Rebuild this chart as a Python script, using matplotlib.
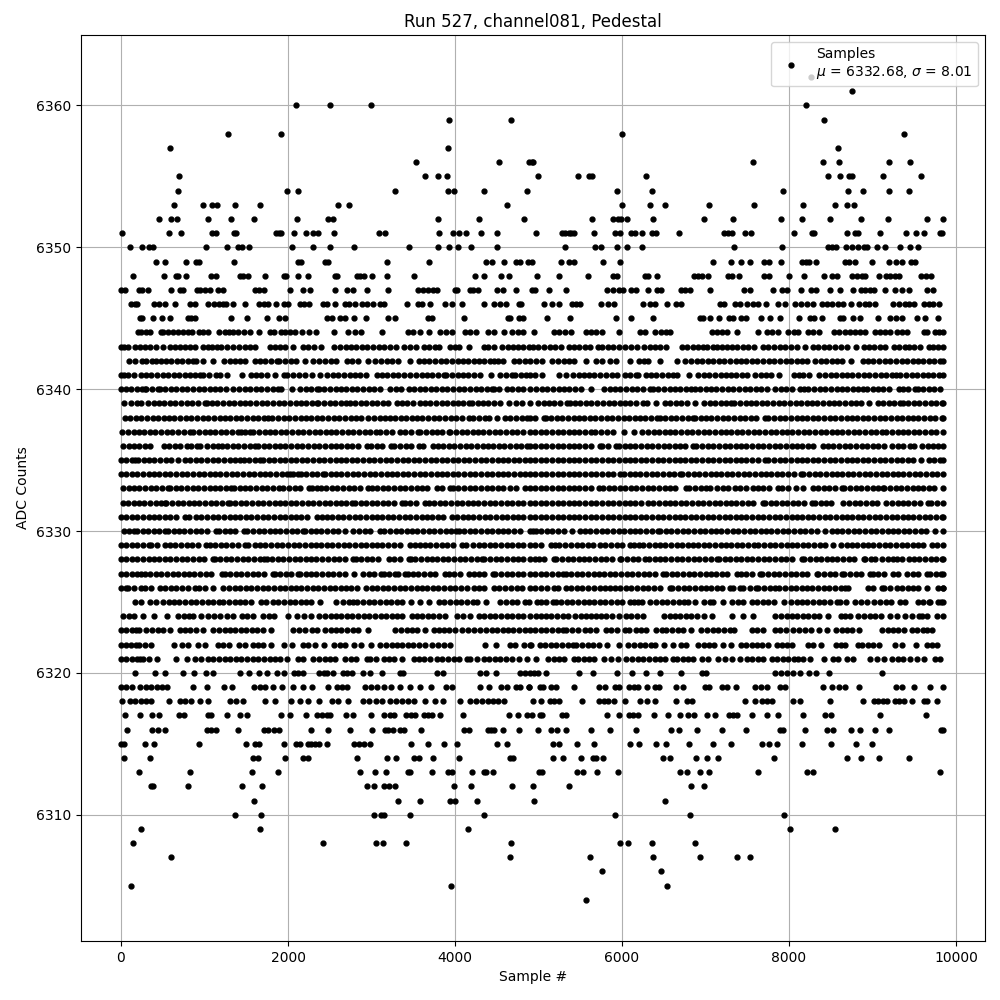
import matplotlib
matplotlib.use("Agg")
import matplotlib.pyplot as plt

TITLE = "Run 527, channel081, Pedestal"
LEGEND = "Samples\n$\\mu$ = 6332.68, $\\sigma$ = 8.01"

s6362 = [8268]
s6361 = [8760]
s6360 = [2095, 2503, 2994, 8208]
s6359 = [3928, 4670, 8424]
s6358 = [1281, 1916, 6000, 9372]
s6357 = [587, 3916, 8592]
s6356 = [3532, 4527, 4885, 4920, 4935, 7572, 8404, 8604, 9192, 9444]
s6355 = [694, 3640, 3796, 3904, 4992, 5472, 5604, 5640, 6288, 8472, 8616, 8724, 8752, 9120, 9576]
s6354 = [682, 1988, 2120, 3281, 3916, 3988, 4348, 4864, 5940, 6360, 7932, 8712, 8880, 9192, 9432]
s6353 = [635, 983, 1090, 1150, 1366, 1665, 2600, 2732, 4620, 6000, 6336, 6516, 7044, 7584, 8172, 8556, 8700, 8784]
s6352 = [456, 600, 672, 1044, 1320, 1596, 2112, 2484, 2544, 3796, 4288, 4826, 5640, 5892, 5952, 5992, 6060, 6372, 6984, 7332, 7908, 8160, 8496, 8868, 9180, 9648, 9845]
s6351 = [12, 576, 720, 1090, 1137, 1350, 1380, 1860, 1892, 1920, 2072, 2216, 2300, 2360, 2552, 3090, 3162, 3808, 3976, 4048, 4132, 4312, 4504, 4968, 5280, 5312, 5364, 5392, 5420, 5664, 5916, 5980, 6112, 6152, 6240, 6360, 6412, 6684, 7224, 7264, 7312, 7476, 7544, 8064, 8272, 8304, 8700, 8792, 8832, 9084, 9396, 9516, 9612, 9804, 9832]
s6350 = [108, 252, 336, 384, 1020, 1272, 1404, 1452, 1536, 2052, 2304, 2508, 2796, 3444, 3792, 3924, 4032, 4188, 4500, 5316, 5676, 5744, 5940, 6060, 6240, 7344, 7920, 8472, 8520, 8560, 8680, 8752, 8832, 8892, 8932, 9048, 9144, 9324, 9444, 9540]
s6349 = [420, 528, 780, 900, 930, 1356, 2124, 2150, 2444, 2480, 3180, 3692, 4376, 4448, 4590, 4736, 4780, 4880, 4920, 5268, 5364, 5424, 5768, 5976, 7092, 7308, 7428, 7536, 7704, 7760, 7908, 8160, 8204, 8236, 8328, 8676, 8724, 8792, 8988, 9192, 9276, 9348, 9456, 9512]
s6348 = [144, 516, 660, 684, 780, 1076, 1140, 1425, 1464, 1520, 1724, 1952, 1972, 2120, 2240, 2564, 2590, 2828, 2868, 2912, 3008, 3184, 3508, 4240, 4348, 4552, 4648, 4980, 5244, 5592, 5892, 5940, 6272, 6312, 6420, 6864, 6912, 6960, 7032, 7272, 7320, 7404, 7704, 7760, 8004, 8184, 8424, 8512, 8572, 8760, 8812, 8872, 8912, 9072, 9156, 9212, 9272, 9312, 9584, 9640, 9700]
s6347 = [0, 48, 216, 252, 324, 604, 708, 748, 912, 952, 1008, 1068, 1164, 1224, 1604, 1652, 1712, 2024, 2184, 2264, 2564, 2708, 2780, 2948, 3200, 3560, 3620, 3680, 3740, 3780, 4000, 4024, 4184, 4216, 4276, 4504, 4576, 4732, 4920, 4956, 5124, 5328, 5820, 5892, 5964, 6012, 6112, 6164, 6312, 6420, 6464, 6708, 6752, 6812, 7056, 7464, 7536, 7812, 7920, 7980, 8148, 8260, 8324, 8496, 8616, 8772, 8868, 8912, 8964, 9012, 9144, 9264, 9348, 9432, 9648, 9724]
s6346 = [120, 164, 192, 396, 456, 528, 652, 832, 884, 1044, 1116, 1176, 1224, 1256, 1344, 1488, 1656, 1712, 1764, 1860, 1956, 2000, 2148, 2192, 2256, 2416, 2472, 2564, 2688, 2736, 2808, 2884, 2948, 3012, 3096, 3152, 3420, 3552, 3604, 3696, 3876, 3960, 4080, 4344, 4464, 4536, 4608, 4764, 4796, 5064, 5156, 5244, 5396, 5452, 5500, 5748, 5832, 5904, 6252, 6332, 6392, 6536, 6644, 6704, 7176, 7224, 7352, 7412, 7492, 7572, 7632, 7728, 7872, 7956, 8076, 8140, 8212, 8292, 8400, 8452, 8520, 8592, 8652, 8748, 8844, 8912, 8952, 9024, 9240, 9312, 9384, 9432, 9492, 9612, 9672, 9720, 9792]
s6345 = [224, 256, 384, 492, 588, 804, 844, 884, 1320, 1512, 1752, 1896, 1968, 2472, 2532, 2628, 2684, 2796, 2940, 3192, 3276, 3672, 3720, 4104, 4632, 4664, 4772, 4816, 5100, 5376, 5928, 6108, 6372, 6932, 6972, 7056, 7164, 7284, 7332, 7428, 7484, 7668, 7776, 7896, 8124, 8256, 8304, 8400, 8616, 8652, 8772, 8852, 9060, 9212, 9276, 9348, 9528, 9624, 9780]
s6344 = [204, 244, 304, 344, 476, 504, 564, 624, 684, 744, 804, 856, 936, 984, 1040, 1176, 1244, 1296, 1344, 1404, 1472, 1544, 1656, 1784, 1832, 1916, 1964, 2024, 2084, 2172, 2256, 2340, 2552, 2724, 2808, 2872, 3120, 3436, 3496, 3576, 3684, 3816, 3888, 3964, 4124, 4176, 4248, 4392, 4464, 4584, 4684, 4752, 4816, 4940, 5180, 5244, 5312, 5392, 5572, 5632, 5692, 5764, 5964, 6212, 6272, 6392, 6472, 6524, 6580, 7072, 7132, 7192, 7260, 7380, 7632, 7740, 7792, 7872, 7992, 8060, 8112, 8232, 8284, 8364, 8540, 8604, 8672, 8732, 8792, 8852, 8912, 9032, 9092, 9152, 9212, 9292, 9352, 9412, 9612, 9652, 9752, 9792, 9845]
s6343 = [0, 40, 84, 164, 224, 284, 344, 416, 504, 584, 644, 704, 764, 824, 884, 984, 1040, 1084, 1144, 1200, 1270, 1336, 1416, 1480, 1540, 1604, 1784, 1844, 1904, 1964, 2064, 2176, 2240, 2310, 2396, 2552, 2620, 2690, 2750, 2820, 2890, 2950, 3020, 3090, 3150, 3220, 3290, 3384, 3464, 3530, 3624, 3684, 3764, 3804, 3944, 4000, 4044, 4164, 4344, 4400, 4464, 4564, 4630, 4700, 4760, 4820, 4884, 4932, 4992, 5060, 5140, 5200, 5272, 5364, 5430, 5490, 5552, 5612, 5712, 5764, 5830, 5890, 5960, 6030, 6112, 6184, 6260, 6330, 6400, 6460, 6524, 6716, 6780, 6850, 6910, 6972, 7012, 7084, 7140, 7200, 7252, 7312, 7380, 7450, 7510, 7580, 7692, 7752, 7820, 7890, 7950, 8020, 8090, 8192, 8284, 8350, 8420, 8484, 8552, 8620, 8692, 8804, 8892, 8952, 9020, 9090, 9150, 9252, 9312, 9392, 9432, 9500, 9570, 9672, 9724, 9790, 9850]
s6342 = [96, 164, 256, 304, 368, 424, 476, 540, 600, 670, 730, 800, 860, 904, 984, 1096, 1232, 1300, 1360, 1430, 1490, 1604, 1664, 1730, 1800, 1864, 1892, 1960, 2030, 2090, 2204, 2304, 2370, 2440, 2510, 2576, 2704, 2770, 2840, 2956, 3044, 3110, 3180, 3250, 3316, 3456, 3564, 3630, 3690, 3760, 3830, 3890, 3960, 4030, 4090, 4160, 4232, 4284, 4350, 4416, 4464, 4520, 4576, 4704, 4770, 4840, 4904, 4972, 5036, 5164, 5230, 5300, 5360, 5424, 5564, 5692, 5760, 5852, 5924, 6100, 6204, 6260, 6312, 6460, 6660, 6752, 6832, 6900, 6960, 7024, 7092, 7160, 7220, 7290, 7360, 7420, 7490, 7560, 7620, 7690, 7760, 7820, 7890, 7960, 8020, 8090, 8150, 8212, 8312, 8380, 8440, 8510, 8580, 8640, 8740, 8884, 8950, 9010, 9080, 9150, 9210, 9280, 9350, 9410, 9480, 9540, 9610, 9680, 9740, 9810, 9845]
s6341 = [0, 40, 84, 152, 236, 300, 360, 430, 500, 560, 630, 700, 764, 824, 890, 950, 984, 1056, 1136, 1184, 1264, 1444, 1552, 1620, 1680, 1744, 1844, 1952, 1992, 2060, 2130, 2200, 2284, 2384, 2472, 2536, 2600, 2670, 2740, 2800, 2864, 2936, 3064, 3130, 3190, 3260, 3320, 3384, 3464, 3530, 3600, 3660, 3730, 3800, 3864, 3896, 3960, 4030, 4100, 4160, 4224, 4296, 4432, 4536, 4610, 4684, 4724, 4790, 4850, 4904, 4960, 5044, 5244, 5332, 5412, 5480, 5540, 5610, 5670, 5732, 5812, 5880, 5940, 6032, 6100, 6164, 6192, 6284, 6350, 6412, 6484, 6550, 6610, 6664, 6804, 6912, 6980, 7040, 7110, 7180, 7240, 7310, 7370, 7440, 7500, 7592, 7660, 7720, 7790, 7884, 8060, 8120, 8172, 8244, 8364, 8430, 8500, 8560, 8630, 8700, 8760, 8830, 8900, 8960, 9030, 9100, 9160, 9230, 9284, 9332, 9400, 9470, 9530, 9600, 9670, 9730, 9792, 9850]
s6340 = [0, 60, 120, 190, 250, 284, 304, 370, 444, 464, 530, 600, 660, 730, 790, 860, 930, 990, 1060, 1130, 1190, 1256, 1336, 1416, 1480, 1550, 1620, 1680, 1750, 1820, 1880, 1916, 2052, 2144, 2210, 2280, 2344, 2376, 2432, 2500, 2570, 2630, 2700, 2770, 2830, 2900, 2970, 3030, 3104, 3216, 3290, 3352, 3444, 3510, 3580, 3640, 3710, 3776, 3844, 3910, 3980, 4050, 4110, 4180, 4250, 4310, 4380, 4444, 4464, 4530, 4624, 4684, 4750, 4820, 4904, 4972, 5040, 5100, 5170, 5240, 5300, 5370, 5440, 5512, 5628, 5780, 5852, 5920, 5980, 6050, 6120, 6180, 6250, 6332, 6372, 6432, 6500, 6570, 6630, 6700, 6770, 6830, 6880, 6932, 7000, 7070, 7130, 7200, 7270, 7330, 7400, 7470, 7530, 7600, 7670, 7732, 7832, 7900, 7960, 8030, 8132, 8180, 8232, 8300, 8370, 8430, 8500, 8570, 8630, 8700, 8770, 8830, 8884, 8932, 9000, 9070, 9130, 9200, 9312, 9360, 9430, 9512, 9540, 9610, 9680, 9740, 9812]
s6339 = [36, 124, 190, 244, 324, 390, 450, 520, 590, 650, 720, 790, 850, 920, 1004, 1024, 1090, 1150, 1220, 1290, 1350, 1420, 1490, 1550, 1620, 1690, 1750, 1820, 1890, 1950, 2020, 2090, 2150, 2220, 2290, 2344, 2364, 2430, 2500, 2560, 2630, 2700, 2744, 2804, 2870, 2940, 3000, 3070, 3140, 3200, 3304, 3364, 3430, 3500, 3584, 3636, 3700, 3770, 3840, 3900, 3970, 4040, 4100, 4164, 4204, 4270, 4340, 4400, 4470, 4540, 4644, 4736, 4800, 4904, 4992, 5060, 5120, 5190, 5252, 5340, 5380, 5432, 5500, 5570, 5630, 5700, 5770, 5844, 5904, 5970, 6040, 6100, 6170, 6252, 6300, 6412, 6512, 6580, 6650, 6710, 6780, 6880, 6980, 7050, 7110, 7180, 7250, 7304, 7340, 7410, 7480, 7540, 7610, 7680, 7740, 7810, 7880, 7940, 8010, 8080, 8140, 8210, 8280, 8340, 8410, 8480, 8540, 8604, 8672, 8740, 8800, 8864, 8956, 9060, 9130, 9200, 9260, 9332, 9364, 9430, 9500, 9560, 9630, 9700, 9760, 9830, 9850]
s6338 = [44, 110, 180, 240, 310, 380, 440, 510, 580, 640, 710, 780, 840, 910, 980, 1040, 1110, 1180, 1240, 1310, 1380, 1440, 1510, 1580, 1640, 1710, 1764, 1812, 1880, 1950, 2010, 2080, 2150, 2210, 2280, 2350, 2410, 2480, 2550, 2610, 2680, 2750, 2810, 2880, 2964, 3024, 3100, 3164, 3216, 3280, 3350, 3410, 3480, 3550, 3610, 3680, 3750, 3810, 3880, 3950, 4010, 4080, 4164, 4216, 4290, 4364, 4404, 4504, 4596, 4660, 4730, 4800, 4860, 4904, 4960, 5060, 5084, 5150, 5220, 5280, 5350, 5420, 5480, 5550, 5620, 5680, 5750, 5820, 5880, 5950, 6020, 6080, 6150, 6220, 6280, 6350, 6420, 6452, 6520, 6590, 6650, 6720, 6790, 6852, 6872, 6940, 7010, 7070, 7140, 7210, 7270, 7340, 7410, 7470, 7540, 7610, 7712, 7752, 7820, 7890, 7950, 8020, 8090, 8150, 8220, 8290, 8350, 8420, 8490, 8550, 8620, 8690, 8750, 8820, 8890, 8950, 9020, 9090, 9150, 9220, 9290, 9350, 9420, 9490, 9550, 9620, 9690, 9750, 9832, 9850]
s6337 = [16, 80, 150, 210, 280, 350, 410, 480, 550, 610, 680, 750, 832, 864, 930, 1000, 1060, 1130, 1200, 1260, 1330, 1396, 1432, 1490, 1544, 1584, 1650, 1720, 1780, 1850, 1920, 1980, 2050, 2120, 2180, 2250, 2320, 2380, 2450, 2520, 2580, 2650, 2720, 2780, 2850, 2920, 2980, 3056, 3104, 3170, 3240, 3336, 3404, 3470, 3552, 3584, 3650, 3720, 3780, 3850, 3924, 3944, 4010, 4080, 4140, 4210, 4280, 4340, 4410, 4480, 4540, 4610, 4680, 4740, 4810, 4904, 4960, 5030, 5090, 5160, 5230, 5290, 5360, 5430, 5490, 5560, 5632, 5680, 5750, 5820, 5892, 6024, 6144, 6244, 6310, 6380, 6440, 6510, 6580, 6640, 6710, 6780, 6840, 6910, 6980, 7040, 7110, 7180, 7240, 7310, 7380, 7440, 7510, 7580, 7640, 7710, 7780, 7840, 7910, 7980, 8040, 8110, 8180, 8240, 8310, 8380, 8440, 8510, 8580, 8640, 8710, 8780, 8840, 8910, 8980, 9040, 9110, 9164, 9232, 9300, 9360, 9430, 9500, 9560, 9630, 9700, 9760, 9845]
s6336 = [24, 90, 160, 220, 290, 344, 516, 580, 650, 710, 792, 844, 910, 952, 1032, 1100, 1160, 1204, 1272, 1340, 1400, 1470, 1540, 1604, 1644, 1710, 1770, 1840, 1910, 1970, 2040, 2110, 2170, 2240, 2310, 2370, 2440, 2510, 2570, 2640, 2710, 2770, 2840, 2944, 2996, 3060, 3130, 3232, 3272, 3340, 3410, 3470, 3564, 3616, 3736, 3792, 3860, 3930, 3990, 4060, 4130, 4190, 4260, 4330, 4390, 4460, 4530, 4590, 4660, 4730, 4790, 4860, 4904, 4960, 5030, 5090, 5160, 5230, 5290, 5360, 5430, 5490, 5560, 5630, 5732, 5764, 5830, 5932, 5964, 6030, 6100, 6160, 6230, 6300, 6360, 6430, 6500, 6560, 6630, 6700, 6760, 6852, 6892, 6960, 7030, 7090, 7160, 7230, 7290, 7360, 7430, 7490, 7560, 7630, 7690, 7760, 7830, 7890, 7960, 8030, 8090, 8160, 8230, 8292, 8404, 8470, 8530, 8600, 8670, 8730, 8800, 8870, 8930, 9000, 9070, 9140, 9232, 9300, 9360, 9452, 9500, 9592, 9660, 9730, 9790, 9850]
s6335 = [0, 60, 130, 164, 204, 270, 340, 400, 470, 540, 600, 684, 764, 830, 900, 960, 1030, 1100, 1160, 1230, 1300, 1360, 1424, 1472, 1536, 1600, 1664, 1704, 1770, 1830, 1900, 1970, 2030, 2100, 2170, 2230, 2300, 2370, 2430, 2500, 2570, 2630, 2700, 2770, 2830, 2900, 2970, 3030, 3100, 3170, 3230, 3304, 3376, 3440, 3510, 3570, 3640, 3710, 3770, 3840, 3910, 3970, 4040, 4110, 4170, 4240, 4310, 4370, 4440, 4510, 4570, 4640, 4710, 4770, 4840, 4904, 4960, 5030, 5090, 5160, 5230, 5290, 5360, 5430, 5490, 5560, 5630, 5690, 5760, 5830, 5890, 5960, 6030, 6090, 6160, 6230, 6290, 6360, 6430, 6490, 6560, 6630, 6690, 6760, 6830, 6890, 6960, 7030, 7090, 7160, 7230, 7290, 7360, 7430, 7490, 7560, 7630, 7712, 7752, 7820, 7890, 7950, 8020, 8090, 8150, 8220, 8290, 8350, 8420, 8490, 8550, 8620, 8690, 8750, 8820, 8890, 8950, 9020, 9090, 9150, 9220, 9290, 9350, 9420, 9490, 9580, 9676, 9740, 9810, 9850]
s6334 = [0, 60, 130, 190, 260, 330, 390, 460, 530, 590, 660, 730, 790, 860, 930, 990, 1060, 1130, 1190, 1260, 1330, 1390, 1460, 1530, 1590, 1660, 1730, 1790, 1860, 1930, 1990, 2024, 2064, 2124, 2152, 2220, 2290, 2350, 2416, 2444, 2510, 2580, 2640, 2710, 2780, 2840, 2910, 2980, 3040, 3110, 3180, 3240, 3310, 3380, 3440, 3510, 3580, 3640, 3710, 3780, 3840, 3910, 3980, 4040, 4110, 4180, 4240, 4310, 4380, 4440, 4510, 4580, 4640, 4710, 4780, 4840, 4904, 4960, 5030, 5090, 5160, 5230, 5290, 5360, 5430, 5490, 5560, 5630, 5690, 5760, 5830, 5890, 5980, 6020, 6090, 6160, 6220, 6290, 6360, 6420, 6490, 6560, 6620, 6692, 6724, 6790, 6860, 6920, 6990, 7060, 7120, 7190, 7260, 7320, 7390, 7460, 7520, 7590, 7660, 7720, 7790, 7860, 7920, 7990, 8060, 8140, 8172, 8240, 8310, 8370, 8440, 8510, 8570, 8640, 8710, 8770, 8840, 8910, 8970, 9040, 9110, 9170, 9240, 9310, 9370, 9440, 9510, 9570, 9640, 9710, 9770, 9850]
s6333 = [24, 90, 160, 220, 290, 360, 420, 490, 564, 592, 660, 720, 790, 860, 920, 990, 1060, 1120, 1190, 1260, 1312, 1352, 1420, 1490, 1550, 1620, 1690, 1750, 1820, 1896, 1944, 2010, 2080, 2140, 2256, 2292, 2352, 2392, 2460, 2530, 2590, 2660, 2730, 2790, 2860, 2964, 3004, 3070, 3140, 3200, 3270, 3340, 3400, 3470, 3540, 3600, 3670, 3784, 3844, 3936, 3976, 4040, 4110, 4180, 4240, 4310, 4380, 4440, 4510, 4580, 4656, 4736, 4844, 4904, 4960, 5030, 5090, 5160, 5230, 5290, 5360, 5430, 5490, 5560, 5630, 5724, 5772, 5840, 5910, 5970, 6040, 6110, 6170, 6240, 6310, 6370, 6440, 6510, 6570, 6640, 6764, 6804, 6870, 6940, 7000, 7052, 7132, 7204, 7270, 7352, 7412, 7490, 7564, 7632, 7692, 7760, 7872, 7920, 7990, 8084, 8164, 8284, 8350, 8420, 8480, 8550, 8632, 8660, 8730, 8800, 8860, 8930, 9000, 9060, 9124, 9140, 9210, 9280, 9340, 9410, 9480, 9540, 9610, 9680, 9740, 9845]
s6332 = [24, 84, 150, 220, 280, 350, 420, 480, 524, 544, 610, 680, 740, 810, 880, 940, 1010, 1080, 1140, 1210, 1284, 1304, 1370, 1440, 1500, 1570, 1640, 1700, 1770, 1840, 1900, 1970, 2040, 2100, 2170, 2240, 2300, 2370, 2440, 2500, 2570, 2640, 2700, 2764, 2804, 2870, 2940, 3000, 3070, 3140, 3200, 3270, 3364, 3396, 3460, 3530, 3644, 3684, 3750, 3820, 3880, 3950, 4020, 4080, 4150, 4220, 4280, 4350, 4420, 4480, 4550, 4620, 4680, 4750, 4820, 4904, 4960, 5030, 5090, 5160, 5230, 5290, 5360, 5430, 5490, 5560, 5630, 5690, 5760, 5830, 5890, 5960, 6030, 6090, 6160, 6230, 6312, 6372, 6440, 6510, 6570, 6640, 6710, 6770, 6840, 6910, 6970, 7040, 7110, 7170, 7240, 7310, 7370, 7440, 7510, 7570, 7692, 7712, 7780, 7850, 7910, 7980, 8050, 8110, 8180, 8272, 8312, 8380, 8440, 8504, 8652, 8720, 8790, 8850, 8920, 8990, 9050, 9164, 9232, 9300, 9370, 9430, 9500, 9570, 9660, 9704, 9770, 9850]
s6331 = [0, 60, 130, 190, 260, 330, 390, 460, 530, 590, 660, 764, 816, 896, 960, 1030, 1100, 1160, 1230, 1300, 1360, 1430, 1500, 1560, 1630, 1700, 1760, 1830, 1900, 1960, 2030, 2100, 2160, 2230, 2352, 2404, 2464, 2530, 2600, 2660, 2730, 2800, 2860, 2930, 3000, 3060, 3130, 3200, 3260, 3330, 3400, 3460, 3530, 3600, 3660, 3730, 3800, 3860, 3964, 4024, 4090, 4160, 4220, 4290, 4360, 4420, 4490, 4560, 4620, 4690, 4760, 4820, 4904, 4960, 5030, 5090, 5160, 5230, 5290, 5360, 5430, 5490, 5560, 5630, 5690, 5760, 5830, 5890, 5960, 6030, 6090, 6160, 6230, 6290, 6360, 6430, 6490, 6560, 6630, 6690, 6760, 6830, 6890, 6960, 7030, 7090, 7160, 7230, 7290, 7360, 7430, 7490, 7560, 7630, 7690, 7760, 7830, 7890, 7960, 8030, 8090, 8160, 8230, 8290, 8360, 8430, 8490, 8560, 8630, 8690, 8760, 8830, 8890, 8960, 9030, 9090, 9160, 9230, 9290, 9360, 9430, 9490, 9560, 9630, 9690, 9760, 9830, 9850]
s6330 = [32, 90, 152, 192, 260, 320, 390, 460, 524, 564, 630, 700, 760, 830, 900, 960, 1030, 1136, 1172, 1240, 1310, 1370, 1476, 1512, 1580, 1650, 1710, 1780, 1850, 1910, 1980, 2050, 2110, 2176, 2204, 2270, 2340, 2400, 2470, 2540, 2600, 2684, 2784, 2850, 2920, 2980, 3104, 3152, 3220, 3290, 3350, 3420, 3490, 3550, 3620, 3690, 3750, 3820, 3890, 3950, 4016, 4044, 4110, 4180, 4240, 4310, 4380, 4440, 4510, 4580, 4640, 4710, 4780, 4904, 4932, 4964, 5030, 5100, 5160, 5230, 5300, 5404, 5492, 5560, 5620, 5690, 5760, 5820, 5890, 5960, 6020, 6090, 6160, 6220, 6290, 6360, 6432, 6460, 6530, 6590, 6660, 6730, 6790, 6860, 6930, 6990, 7060, 7130, 7190, 7260, 7330, 7390, 7460, 7530, 7590, 7660, 7730, 7790, 7860, 7930, 7990, 8060, 8130, 8190, 8260, 8330, 8432, 8512, 8580, 8640, 8710, 8780, 8840, 8910, 8980, 9040, 9110, 9180, 9240, 9310, 9380, 9440, 9510, 9580, 9640, 9752, 9844]
s6329 = [0, 60, 130, 190, 260, 330, 364, 432, 524, 590, 650, 720, 790, 850, 920, 1016, 1064, 1130, 1200, 1260, 1330, 1400, 1484, 1524, 1604, 1670, 1730, 1800, 1870, 1930, 2000, 2070, 2130, 2200, 2270, 2330, 2400, 2470, 2530, 2600, 2670, 2730, 2800, 2870, 2930, 3000, 3070, 3130, 3200, 3270, 3344, 3456, 3520, 3584, 3644, 3704, 3770, 3840, 3900, 3970, 4084, 4132, 4216, 4284, 4350, 4420, 4480, 4550, 4620, 4680, 4750, 4820, 4904, 4960, 5030, 5152, 5192, 5250, 5312, 5392, 5460, 5520, 5590, 5652, 5740, 5800, 5870, 5940, 6000, 6092, 6140, 6200, 6252, 6324, 6390, 6460, 6520, 6590, 6660, 6720, 6792, 6852, 6912, 6980, 7040, 7110, 7180, 7240, 7310, 7380, 7440, 7510, 7580, 7632, 7700, 7770, 7830, 7900, 7970, 8030, 8100, 8170, 8230, 8300, 8370, 8430, 8524, 8620, 8690, 8752, 8812, 8880, 8950, 9010, 9080, 9150, 9210, 9280, 9350, 9410, 9480, 9550, 9610, 9712, 9772, 9845]
s6328 = [0, 60, 130, 190, 260, 330, 390, 460, 530, 590, 660, 730, 790, 860, 930, 990, 1096, 1124, 1190, 1260, 1320, 1390, 1460, 1520, 1590, 1660, 1712, 1744, 1810, 1880, 1940, 2010, 2080, 2140, 2210, 2280, 2340, 2404, 2484, 2550, 2610, 2680, 2784, 2816, 2880, 2950, 3010, 3076, 3204, 3270, 3340, 3444, 3472, 3524, 3590, 3660, 3720, 3790, 3860, 3920, 3990, 4060, 4120, 4190, 4260, 4324, 4352, 4420, 4490, 4550, 4620, 4690, 4750, 4820, 4904, 4952, 5004, 5070, 5180, 5212, 5280, 5350, 5410, 5480, 5550, 5610, 5680, 5750, 5810, 5880, 5972, 5992, 6060, 6130, 6190, 6272, 6324, 6390, 6460, 6520, 6590, 6660, 6720, 6790, 6860, 6920, 6990, 7060, 7132, 7164, 7230, 7292, 7364, 7430, 7500, 7560, 7630, 7700, 7760, 7830, 7900, 7960, 8030, 8152, 8180, 8250, 8320, 8380, 8450, 8520, 8580, 8650, 8720, 8780, 8892, 8912, 8980, 9032, 9112, 9180, 9240, 9292, 9352, 9432, 9500, 9560, 9630, 9700, 9760, 9830, 9850]
s6327 = [0, 60, 130, 190, 244, 284, 350, 420, 480, 550, 620, 680, 750, 820, 880, 950, 1020, 1080, 1204, 1244, 1310, 1380, 1440, 1510, 1580, 1640, 1710, 1816, 1844, 1910, 1980, 2040, 2124, 2144, 2210, 2280, 2340, 2410, 2480, 2540, 2610, 2680, 2792, 2904, 2970, 3030, 3112, 3144, 3210, 3284, 3312, 3404, 3432, 3496, 3560, 3630, 3700, 3760, 3884, 3924, 3990, 4060, 4164, 4224, 4290, 4350, 4452, 4484, 4550, 4620, 4680, 4750, 4820, 4904, 4960, 5030, 5090, 5160, 5230, 5292, 5324, 5390, 5460, 5520, 5590, 5660, 5720, 5790, 5860, 5920, 5990, 6060, 6120, 6190, 6260, 6320, 6390, 6492, 6532, 6600, 6660, 6730, 6800, 6860, 6930, 7000, 7060, 7130, 7200, 7260, 7372, 7420, 7490, 7560, 7652, 7680, 7750, 7820, 7880, 7950, 8020, 8080, 8150, 8220, 8332, 8352, 8420, 8490, 8550, 8632, 8664, 8730, 8800, 8860, 8964, 9004, 9070, 9140, 9244, 9304, 9412, 9480, 9540, 9652, 9692, 9760, 9820, 9850]
s6326 = [4, 60, 84, 152, 236, 290, 356, 464, 532, 600, 660, 730, 800, 884, 936, 1004, 1096, 1216, 1296, 1360, 1430, 1500, 1560, 1630, 1700, 1760, 1830, 1900, 1960, 2030, 2100, 2160, 2230, 2300, 2360, 2430, 2500, 2560, 2630, 2700, 2760, 2830, 2936, 3004, 3070, 3140, 3200, 3270, 3340, 3400, 3470, 3540, 3600, 3670, 3740, 3800, 3870, 3940, 4000, 4070, 4140, 4224, 4290, 4350, 4464, 4524, 4604, 4670, 4740, 4800, 4904, 4960, 5030, 5100, 5180, 5232, 5324, 5392, 5460, 5520, 5590, 5660, 5732, 5792, 5852, 5912, 5980, 6050, 6110, 6180, 6250, 6310, 6380, 6450, 6572, 6604, 6670, 6740, 6800, 6870, 6940, 7000, 7070, 7140, 7200, 7292, 7332, 7412, 7452, 7530, 7604, 7632, 7700, 7770, 7832, 7884, 7950, 8020, 8080, 8150, 8220, 8280, 8350, 8420, 8480, 8550, 8620, 8672, 8712, 8940, 9010, 9112, 9140, 9210, 9292, 9352, 9420, 9490, 9550, 9652, 9780, 9840, 9850]
s6325 = [164, 244, 344, 416, 504, 570, 640, 700, 770, 840, 900, 970, 1036, 1096, 1176, 1224, 1290, 1360, 1420, 1490, 1560, 1672, 1736, 1816, 1880, 1950, 2020, 2080, 2150, 2220, 2280, 2384, 2576, 2664, 2736, 2784, 2832, 2900, 2970, 3030, 3100, 3170, 3230, 3304, 3364, 3476, 3584, 3684, 3804, 3872, 3940, 4010, 4070, 4140, 4216, 4264, 4376, 4544, 4610, 4680, 4740, 4844, 4892, 4980, 5032, 5084, 5172, 5204, 5270, 5340, 5400, 5470, 5540, 5600, 5670, 5740, 5800, 5870, 5940, 6000, 6092, 6140, 6192, 6244, 6332, 6412, 6480, 6540, 6610, 6680, 6740, 6792, 6880, 6980, 7052, 7092, 7204, 7312, 7392, 7452, 7552, 7620, 7690, 7750, 7820, 7944, 8024, 8090, 8160, 8220, 8290, 8360, 8420, 8490, 8572, 8612, 8680, 8792, 8860, 8930, 9012, 9092, 9160, 9220, 9332, 9388, 9540, 9610, 9672, 9692, 9780, 9820, 9850]
s6324 = [24, 90, 152, 264, 396, 552, 684, 750, 810, 864, 956, 1044, 1110, 1180, 1264, 1344, 1444, 1510, 1584, 1704, 1770, 1832, 2004, 2112, 2190, 2272, 2376, 2440, 2510, 2570, 2640, 2710, 2770, 2840, 2910, 2970, 3040, 3110, 3170, 3240, 3310, 3370, 3484, 3544, 3610, 3680, 3740, 3810, 3884, 4024, 4100, 4176, 4284, 4350, 4420, 4480, 4550, 4620, 4680, 4750, 4820, 4904, 4972, 5030, 5092, 5152, 5220, 5290, 5350, 5432, 5512, 5570, 5632, 5692, 5750, 5804, 5884, 5960, 6052, 6112, 6180, 6252, 6500, 6570, 6630, 6700, 6770, 6830, 6900, 6980, 7072, 7320, 7452, 7564, 7832, 7900, 7970, 8030, 8100, 8170, 8230, 8300, 8364, 8472, 8620, 8672, 8732, 8832, 8900, 8970, 9030, 9100, 9212, 9292, 9392, 9472, 9552, 9592, 9652, 9772, 9845]
s6323 = [0, 60, 130, 184, 216, 304, 370, 440, 500, 584, 704, 770, 830, 900, 984, 1104, 1170, 1240, 1300, 1370, 1440, 1500, 1570, 1624, 1704, 1800, 2064, 2130, 2200, 2284, 2352, 2444, 2510, 2580, 2640, 2710, 2780, 2840, 2964, 3284, 3350, 3420, 3480, 3550, 3644, 3744, 3804, 3864, 3930, 4000, 4084, 4156, 4224, 4304, 4370, 4440, 4500, 4570, 4640, 4700, 4770, 4840, 4904, 4960, 5030, 5090, 5160, 5230, 5292, 5332, 5400, 5472, 5552, 5612, 5684, 5804, 5870, 5940, 6032, 6080, 6172, 6232, 6284, 6412, 6480, 6532, 6600, 6670, 6730, 6832, 6940, 7012, 7092, 7152, 7220, 7292, 7340, 7552, 7620, 7692, 7832, 7892, 7964, 8052, 8120, 8192, 8260, 8364, 8452, 8564, 8630, 8700, 8760, 8844, 9112, 9180, 9250, 9310, 9380, 9472, 9532, 9600, 9652, 9712]
s6322 = [0, 60, 120, 184, 216, 284, 364, 636, 732, 804, 924, 1004, 1164, 1224, 1296, 1416, 1484, 1584, 1640, 1704, 1792, 1956, 2052, 2176, 2244, 2324, 2436, 2552, 2624, 2688, 2796, 2880, 2988, 3096, 3170, 3240, 3300, 3370, 3440, 3500, 3570, 3640, 3724, 3792, 3864, 3944, 4356, 4488, 4664, 4724, 4832, 4904, 4912, 5012, 5080, 5150, 5210, 5280, 5350, 5412, 5452, 5520, 5590, 5650, 5720, 5820, 5964, 6072, 6144, 6212, 6280, 6350, 6392, 6504, 6612, 6712, 6772, 6912, 6980, 7040, 7104, 7212, 7304, 7420, 7490, 7560, 7612, 7680, 7752, 7852, 7920, 7980, 8032, 8232, 8284, 8388, 8564, 8620, 8676, 8832, 8872, 8940, 9010, 9072, 9272, 9352, 9516, 9652, 9710, 9772]
s6321 = [0, 60, 130, 190, 224, 264, 336, 432, 656, 792, 884, 960, 1044, 1104, 1176, 1244, 1310, 1380, 1440, 1510, 1580, 1640, 1710, 1780, 1840, 1904, 1984, 2124, 2176, 2304, 2370, 2440, 2500, 2564, 2684, 2750, 2820, 2944, 2984, 3050, 3152, 3204, 3264, 3364, 3504, 3570, 3630, 3704, 3784, 3850, 3920, 3990, 4050, 4144, 4176, 4264, 4344, 4410, 4480, 4540, 4610, 4684, 4764, 4864, 4964, 5112, 5180, 5250, 5310, 5420, 5472, 5540, 5610, 5670, 5780, 5872, 5952, 6052, 6120, 6192, 6252, 6320, 6390, 6450, 6520, 6612, 6660, 6730, 6790, 6852, 6952, 7032, 7152, 7230, 7312, 7412, 7492, 7560, 7630, 7692, 7792, 7860, 7930, 7990, 8060, 8112, 8172, 8252, 8424, 8524, 8592, 8692, 8772, 8972, 9052, 9132, 9232, 9300, 9370, 9452, 9532, 9612, 9752, 9812]
s6320 = [168, 408, 528, 744, 872, 1016, 1096, 1428, 1536, 1656, 1752, 1872, 1952, 2072, 2124, 2184, 2376, 2430, 2472, 2544, 2664, 2710, 2764, 2904, 2984, 3120, 3336, 3376, 3784, 3856, 4296, 4376, 4496, 4784, 4840, 4904, 4950, 4992, 5088, 5484, 5652, 5940, 6124, 6288, 6456, 6708, 6960, 7000, 7836, 7900, 7980, 8050, 8132, 8244, 8328, 8484, 9108]
s6319 = [0, 60, 130, 224, 296, 364, 432, 490, 552, 864, 1032, 1236, 1328, 1592, 1660, 1720, 1824, 1932, 2064, 2184, 2292, 2484, 2584, 2652, 2712, 2924, 2990, 3060, 3144, 3236, 3344, 3464, 3576, 3708, 3888, 3964, 4296, 4404, 4552, 4624, 4736, 4784, 4884, 4892, 5012, 5052, 5152, 5204, 5424, 5724, 5792, 5912, 5964, 6084, 6140, 6192, 6300, 6392, 6444, 6644, 6732, 6992, 7044, 7192, 7260, 7364, 7592, 7660, 7740, 7892, 7952, 8404, 8520, 8604, 8672, 8844, 9276, 9352, 9492, 9684, 9840]
s6318 = [12, 104, 170, 240, 300, 356, 576, 704, 764, 844, 948, 1044, 1304, 1376, 1464, 1728, 1848, 2040, 2148, 2244, 2376, 2524, 2604, 2724, 2904, 2970, 3050, 3124, 3224, 3296, 3364, 3432, 3504, 3636, 3756, 3852, 4056, 4184, 4250, 4320, 4390, 4450, 4520, 4584, 4932, 5032, 5132, 5190, 5244, 5520, 5724, 5790, 5832, 5904, 6032, 6212, 6300, 6392, 6648, 6780, 6840, 7476, 7596, 7672, 7740, 7792, 8044, 8132, 8496, 8880, 9012, 9070, 9130, 9172, 9264, 9320, 9372, 9472, 9612, 9652, 9768]
s6317 = [44, 228, 372, 456, 696, 756, 1044, 1072, 1264, 1428, 1512, 1920, 2028, 2220, 2344, 2410, 2470, 2504, 2700, 2784, 2988, 3144, 3224, 3272, 3416, 3470, 3516, 3624, 3680, 3724, 3816, 4092, 4644, 4752, 4864, 4920, 5012, 5044, 5284, 5332, 5820, 5964, 6084, 6132, 6192, 6384, 6548, 6696, 6792, 6860, 7012, 7116, 7284, 7330, 7372, 7560, 7740, 7864, 8172, 8432, 8504, 9084, 9636]
s6316 = [72, 372, 444, 528, 1032, 1080, 1136, 1404, 1716, 1764, 1836, 1896, 2280, 2484, 2748, 3008, 3156, 3192, 3252, 3344, 3392, 3588, 4104, 4164, 4392, 4430, 4464, 4572, 4764, 4992, 5152, 5220, 5328, 5628, 5856, 6172, 6588, 6684, 6900, 7200, 7488, 7892, 7932, 8196, 8460, 8532, 8748, 8856, 9024, 9192, 9816, 9850]
s6315 = [0, 36, 288, 396, 936, 1500, 1604, 1656, 1956, 2096, 2144, 2236, 2280, 2324, 2376, 2472, 2796, 2856, 2916, 2976, 3468, 3672, 3864, 4020, 4500, 4620, 5172, 5244, 5460, 5664, 6096, 6204, 6408, 6528, 6804, 7092, 7308, 7680, 7764, 7860, 8160, 8508, 8808, 8988]
s6314 = [36, 348, 1584, 1636, 1968, 2184, 2244, 2832, 3180, 3288, 3504, 3564, 3732, 4044, 4656, 4696, 5172, 5292, 5508, 5652, 5684, 5772, 6492, 6576, 6888, 7020, 7152, 7824, 8700, 8868, 9072, 9432]
s6313 = [216, 828, 1572, 1884, 2868, 3036, 3168, 3432, 3464, 3720, 3916, 3964, 4200, 4344, 4372, 4452, 5004, 5044, 5460, 5532, 5700, 5952, 6696, 6780, 6936, 7044, 7632, 8220, 8292, 9804]
s6312 = [364, 384, 804, 1452, 1692, 2952, 3024, 3144, 3204, 3276, 3984, 4188, 4680, 4932, 5364, 6828, 6984]
s6311 = [1596, 3312, 3576, 3936, 4000, 4260, 4944, 6516]
s6310 = [1368, 1680, 3024, 3112, 3152, 3456, 4344, 5916, 6816, 7944]
s6309 = [240, 1668, 4152, 8016, 8556]
s6308 = [144, 2424, 3048, 3132, 3408, 4668, 5976, 6072, 6360, 6876]
s6307 = [600, 4656, 5616, 6372, 6936, 7380, 7536]
s6306 = [5760, 6468]
s6305 = [120, 3948, 6540]
s6304 = [5568]

rows = [
    (6362, s6362), (6361, s6361), (6360, s6360), (6359, s6359), (6358, s6358), (6357, s6357),
    (6356, s6356), (6355, s6355), (6354, s6354), (6353, s6353), (6352, s6352), (6351, s6351),
    (6350, s6350), (6349, s6349), (6348, s6348), (6347, s6347), (6346, s6346), (6345, s6345),
    (6344, s6344), (6343, s6343), (6342, s6342), (6341, s6341), (6340, s6340), (6339, s6339),
    (6338, s6338), (6337, s6337), (6336, s6336), (6335, s6335), (6334, s6334), (6333, s6333),
    (6332, s6332), (6331, s6331), (6330, s6330), (6329, s6329), (6328, s6328), (6327, s6327),
    (6326, s6326), (6325, s6325), (6324, s6324), (6323, s6323), (6322, s6322), (6321, s6321),
    (6320, s6320), (6319, s6319), (6318, s6318), (6317, s6317), (6316, s6316), (6315, s6315),
    (6314, s6314), (6313, s6313), (6312, s6312), (6311, s6311), (6310, s6310), (6309, s6309),
    (6308, s6308), (6307, s6307), (6306, s6306), (6305, s6305), (6304, s6304),
]

xs = []
ys = []
for level, samples in rows:
    xs.extend(samples)
    ys.extend([level] * len(samples))

fig = plt.figure(figsize=(10, 10), dpi=100)
ax = fig.add_axes([0.081, 0.059, 0.904, 0.906])
ax.plot(xs, ys, "k.", markersize=7, label=LEGEND)
ax.set_xlim(-479, 10347)
ax.set_ylim(6301.1, 6364.97)
ax.set_title(TITLE)
ax.set_xlabel("Sample #")
ax.set_ylabel("ADC Counts")
ax.grid(True)
ax.legend(loc="upper right")
fig.savefig("out.png", dpi=100)
